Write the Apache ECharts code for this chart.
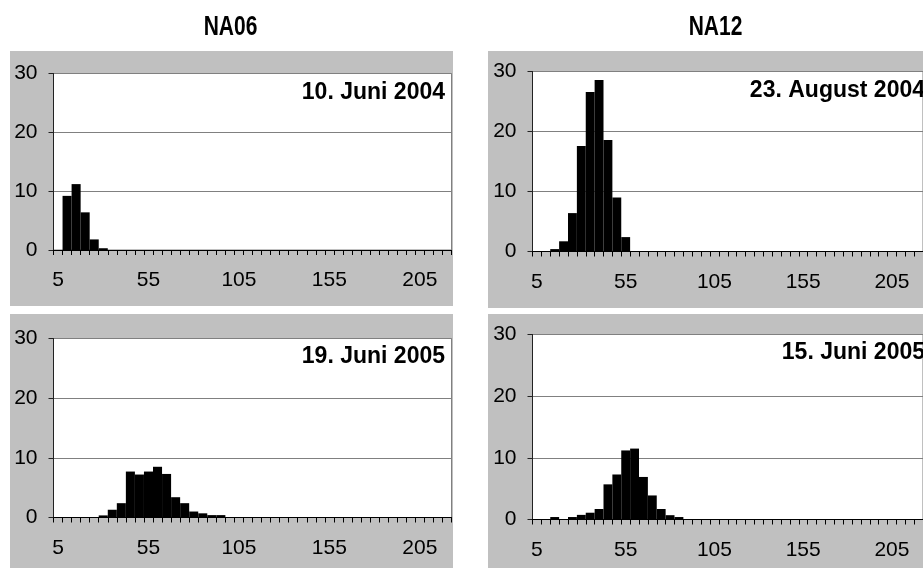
<!DOCTYPE html>
<html>
<head>
<meta charset="utf-8">
<script src="https://cdn.jsdelivr.net/npm/echarts@6/dist/echarts.min.js"></script>
<style>
  html, body { margin: 0; padding: 0; background: #fff; }
  #chart { width: 923px; height: 568px; }
</style>
</head>
<body>
<div id="chart"></div>
<script>
// Size classes (lower bound of each 5-unit bin)
var sizeClasses = ['5','10','15','20','25','30','35','40','45','50',
  '55','60','65','70','75','80','85','90','95','100',
  '105','110','115','120','125','130','135','140','145','150',
  '155','160','165','170','175','180','185','190','195','200',
  '205','210','215','220'];

// Frequencies per size class
var na06_2004 = [0, 9.2, 11.2, 6.4, 1.8, 0.3, 0, 0, 0, 0,
  0, 0, 0, 0, 0, 0, 0, 0, 0, 0,
  0, 0, 0, 0, 0, 0, 0, 0, 0, 0,
  0, 0, 0, 0, 0, 0, 0, 0, 0, 0,
  0, 0, 0, 0];
var na12_2004 = [0, 0, 0.4, 1.7, 6.4, 17.6, 26.6, 28.6, 18.6, 9.0,
  2.4, 0, 0, 0, 0, 0, 0, 0, 0, 0,
  0, 0, 0, 0, 0, 0, 0, 0, 0, 0,
  0, 0, 0, 0, 0, 0, 0, 0, 0, 0,
  0, 0, 0, 0];
var na06_2005 = [0, 0, 0, 0, 0, 0.35, 1.3, 2.4, 7.7, 7.2,
  7.7, 8.5, 7.3, 3.4, 2.4, 1.0, 0.7, 0.4, 0.4, 0,
  0, 0, 0, 0, 0, 0, 0, 0, 0, 0,
  0, 0, 0, 0, 0, 0, 0, 0, 0, 0,
  0, 0, 0, 0];
var na12_2005 = [0, 0, 0.4, 0, 0.4, 0.75, 1.1, 1.7, 5.7, 7.3,
  11.2, 11.5, 6.9, 3.9, 1.7, 0.7, 0.4, 0, 0, 0,
  0, 0, 0, 0, 0, 0, 0, 0, 0, 0,
  0, 0, 0, 0, 0, 0, 0, 0, 0, 0,
  0, 0, 0, 0];

var yTicks = [0, 10, 20, 30];
var stationTitles = ['NA06', 'NA12'];
var dateLabels = ['10. Juni 2004', '23. August 2004', '19. Juni 2005', '15. Juni 2005'];

var FONT = "'Liberation Sans', Arial, sans-serif";
var panels = [
  { grid: { left: 53.5, top: 73.5, width: 398, height: 176.5 }, data: na06_2004, label: dateLabels[0], lx: 445, ly: 93 },
  { grid: { left: 532.5, top: 71.5, width: 398, height: 180 }, data: na12_2004, label: dateLabels[1], lx: 925, ly: 91 },
  { grid: { left: 53.5, top: 338.5, width: 398, height: 179 }, data: na06_2005, label: dateLabels[2], lx: 445, ly: 357 },
  { grid: { left: 532.5, top: 334.5, width: 398, height: 185 }, data: na12_2005, label: dateLabels[3], lx: 925, ly: 353 }
];
var backdrops = [
  { x: 10, y: 51, width: 443, height: 255 },
  { x: 488, y: 51, width: 440, height: 257 },
  { x: 10, y: 314, width: 443, height: 260 },
  { x: 488, y: 314, width: 440, height: 260 }
];
var titlePos = [{ x: 230.5, y: 27 }, { x: 715.5, y: 27 }];

var grids = [], xAxes = [], yAxes = [], series = [], graphics = [];

backdrops.forEach(function (b) {
  graphics.push({ type: 'rect', z: -10, shape: b, style: { fill: '#c0c0c0' } });
});

// Station headings above each column (tall, narrow bold lettering)
stationTitles.forEach(function (t, i) {
  graphics.push({
    type: 'text', z: 100, x: titlePos[i].x, y: titlePos[i].y, scaleX: 0.75, scaleY: 1,
    style: { text: t, fill: '#000', font: 'bold 28px ' + FONT, textAlign: 'center', textVerticalAlign: 'middle' }
  });
});

panels.forEach(function (p, i) {
  grids.push(Object.assign({
    show: true, backgroundColor: '#ffffff', borderColor: '#808080', borderWidth: 1
  }, p.grid));
  xAxes.push({
    type: 'category', gridIndex: i, data: sizeClasses, boundaryGap: true,
    axisLine: { show: true, lineStyle: { color: '#000', width: 1 } },
    axisTick: { show: true, interval: 0, length: 5, lineStyle: { color: '#000' } },
    axisLabel: { interval: 9, margin: 20, color: '#000', fontSize: 21, fontFamily: FONT },
    splitLine: { show: false }
  });
  yAxes.push({
    type: 'value', gridIndex: i, min: yTicks[0], max: yTicks[yTicks.length - 1], interval: 10,
    axisLine: { show: true, lineStyle: { color: '#222', width: 1 } },
    axisTick: { show: true, length: 5, lineStyle: { color: '#222' } },
    axisLabel: { margin: 16, color: '#000', fontSize: 21, fontFamily: FONT },
    splitLine: { show: true, lineStyle: { color: '#808080', width: 1 } }
  });
  series.push({
    type: 'bar', xAxisIndex: i, yAxisIndex: i, data: p.data,
    barWidth: '100%', barCategoryGap: '0%',
    itemStyle: { color: '#000' }, silent: true
  });
  graphics.push({
    type: 'text', z: 100, x: p.lx, y: p.ly,
    style: { text: p.label, fill: '#000', font: 'bold 23px ' + FONT, textAlign: 'right', textVerticalAlign: 'middle' }
  });
});

var chart = echarts.init(document.getElementById('chart'), null, { renderer: 'canvas' });
chart.setOption({
  backgroundColor: '#ffffff',
  animation: false,
  grid: grids,
  xAxis: xAxes,
  yAxis: yAxes,
  series: series,
  graphic: graphics
});
</script>
</body>
</html>
